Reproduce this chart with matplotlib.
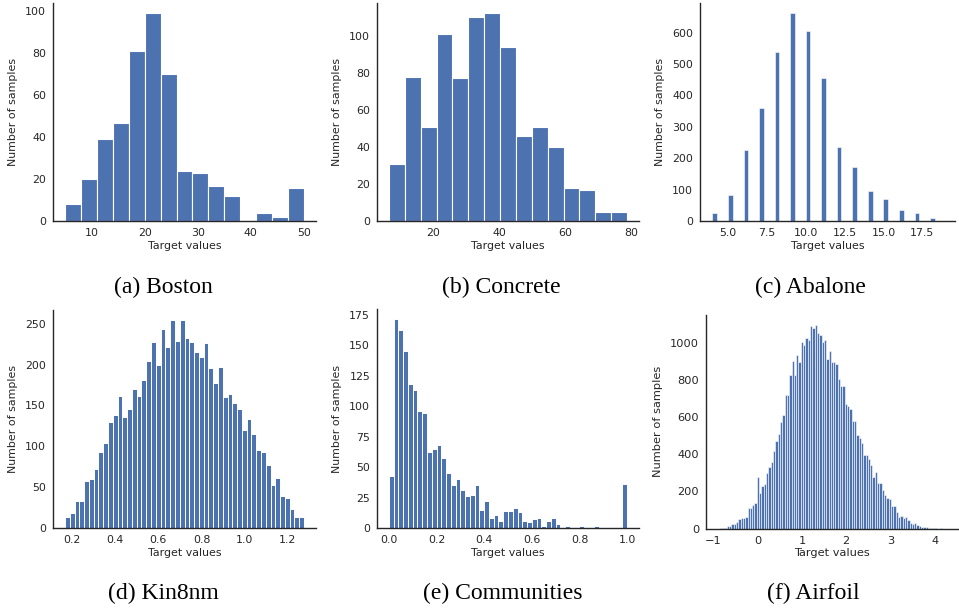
import matplotlib

matplotlib.use("Agg")
import matplotlib.pyplot as plt
import numpy as np
import seaborn as sns
from matplotlib.ticker import MultipleLocator

sns.set_style("white")
plt.rcParams["font.family"] = ["DejaVu Sans"]

BLUE = "#4c72b0"
W, H = 959, 608

# ========= data =========
boston_range = (5.0, 50.0)
boston_counts = [8, 20, 39, 47, 81, 99, 70, 24, 23, 17, 12, 0, 4, 2, 16]

concrete_range = (6.6, 78.7)
concrete_counts = [31, 78, 51, 101, 77, 110, 112, 94, 46, 51, 40, 18, 17, 5, 5]

abalone_rings = [4, 5, 6, 7, 8, 9, 10, 11, 12, 13, 14, 15, 16, 17, 18]
abalone_counts = [26, 84, 228, 361, 538, 661, 604, 456, 236, 172, 95, 71, 35, 26, 10]

kin8nm_range = (0.166, 1.276)
kin8nm_counts = [
    14, 18, 33, 33, 58, 60, 72, 93, 104, 130,
    138, 162, 136, 146, 170, 161, 181, 204, 228, 200,
    244, 222, 254, 229, 254, 232, 227, 215, 209, 226,
    196, 177, 197, 160, 164, 153, 145, 120, 133, 115,
    95, 93, 77, 53, 61, 39, 37, 23, 14, 13,
]

communities_range = (0.0, 1.0)
communities_counts = [
    43, 171, 162, 145, 118, 113, 96, 94, 62, 65,
    68, 57, 45, 35, 40, 31, 26, 27, 35, 15,
    22, 8, 11, 6, 14, 14, 16, 13, 6, 5,
    7, 8, 2, 6, 8, 3, 0, 2, 1, 0,
    2, 1, 0, 2, 0, 0, 0, 0, 0, 36,
]

airfoil_range = (-0.91, 4.27)
airfoil_counts = [
    1, 3, 4, 5, 14, 14, 23, 25, 36, 50, 56, 60, 64, 112, 112, 126, 137,
    278,
    193, 231, 240, 300, 334, 361, 415, 470, 508, 571, 611, 720, 716, 828,
    900, 828, 936, 895, 1005, 987, 1023, 1016, 1088, 1078, 1094, 1054,
    1042, 1002, 1013, 910, 955, 897, 897, 886, 803, 765, 768, 669, 660,
    644, 579, 579, 503, 490, 458, 398, 398, 373, 340, 277, 304, 246, 246,
    210, 181, 165, 159, 121, 121, 89, 63, 69, 56, 65, 45, 31, 25, 31, 20,
    14, 9, 9, 7, 4, 4, 4, 2, 0, 3, 1, 1,
]

captions = ["(a) Boston", "(b) Concrete", "(c) Abalone",
            "(d) Kin8nm", "(e) Communities", "(f) Airfoil"]


# ========= helpers =========
def make_ax(fig, left, top, right, bottom):
    return fig.add_axes([left / W, 1 - bottom / H, (right - left) / W, (bottom - top) / H])


def style(ax, fs=7.9):
    sns.despine(ax=ax)
    for s in ("left", "bottom"):
        ax.spines[s].set_color(".15")
        ax.spines[s].set_linewidth(1.0)
    ax.tick_params(axis="both", length=0, pad=5.0, labelsize=fs, colors=".15")
    ax.set_xlabel("Target values", fontsize=fs, color=".15", labelpad=2)
    ax.set_ylabel("Number of samples", fontsize=fs, color=".15", labelpad=5)


def hist_bars(ax, rng, counts, lw=0.8):
    edges = np.linspace(rng[0], rng[1], len(counts) + 1)
    ax.bar(edges[:-1], counts, width=np.diff(edges), align="edge",
           color=BLUE, edgecolor="white", linewidth=lw)


# ========= figure =========
fig = plt.figure(figsize=(W / 100, H / 100), dpi=100)

ax = make_ax(fig, 53, 3, 316, 221.3)
hist_bars(ax, boston_range, boston_counts)
ax.yaxis.set_major_locator(MultipleLocator(20))
style(ax)

ax = make_ax(fig, 377, 3, 639, 221.3)
hist_bars(ax, concrete_range, concrete_counts)
ax.xaxis.set_major_locator(MultipleLocator(20))
ax.yaxis.set_major_locator(MultipleLocator(20))
style(ax)

ax = make_ax(fig, 700, 3, 955, 221.3)
ax.bar(abalone_rings, abalone_counts, width=0.3, align="edge",
       color=BLUE, edgecolor="white", linewidth=0.4)
ax.set_xlim(3.2, 19.6)
ax.xaxis.set_major_locator(MultipleLocator(2.5))
ax.yaxis.set_major_locator(MultipleLocator(100))
style(ax)

ax = make_ax(fig, 53, 310, 316, 528)
hist_bars(ax, kin8nm_range, kin8nm_counts, lw=0.7)
ax.xaxis.set_major_locator(MultipleLocator(0.2))
ax.yaxis.set_major_locator(MultipleLocator(50))
style(ax)

ax = make_ax(fig, 377, 309, 639, 528)
hist_bars(ax, communities_range, communities_counts, lw=0.7)
ax.xaxis.set_major_locator(MultipleLocator(0.2))
ax.yaxis.set_major_locator(MultipleLocator(25))
style(ax)

ax = make_ax(fig, 706, 315, 958, 528.7)
hist_bars(ax, airfoil_range, airfoil_counts, lw=0.4)
ax.xaxis.set_major_locator(MultipleLocator(1))
ax.yaxis.set_major_locator(MultipleLocator(200))
style(ax, fs=8.2)

cap_pos = [(163, 287), (501, 287), (810, 287), (163, 593), (503, 593), (813, 593)]
for (cx, cy), txt in zip(cap_pos, captions):
    fig.text(cx / W, 1 - cy / H, txt, ha="center", va="center",
             fontsize=17, family="Liberation Serif", color="black")

fig.savefig("out.png", dpi=100)
